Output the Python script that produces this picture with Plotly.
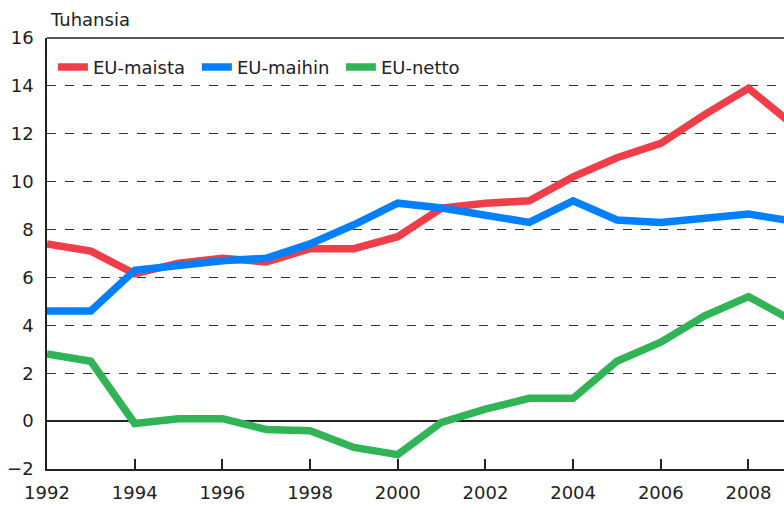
import plotly.graph_objects as go

years = list(range(1992, 2010))
eu_maista = [7.4, 7.1, 6.15, 6.6, 6.8, 6.65, 7.2, 7.2, 7.7, 8.9, 9.1, 9.2, 10.2, 11.0, 11.6, 12.8, 13.9, 12.4]
eu_maihin = [4.6, 4.6, 6.3, 6.5, 6.7, 6.8, 7.4, 8.2, 9.1, 8.9, 8.6, 8.3, 9.2, 8.4, 8.3, 8.5, 8.65, 8.35]
eu_netto = [2.8, 2.5, -0.1, 0.1, 0.1, -0.35, -0.4, -1.1, -1.4, -0.05, 0.5, 0.95, 0.95, 2.5, 3.3, 4.4, 5.2, 4.2]

series = [
    ("EU-maista", eu_maista, "#EF3E48"),
    ("EU-maihin", eu_maihin, "#0080FF"),
    ("EU-netto", eu_netto, "#30B455"),
]

FONT = "DejaVu Sans"

fig = go.Figure()
for name, vals, col in series:
    fig.add_trace(go.Scatter(x=years, y=vals, name=name, mode="lines",
                             line=dict(color=col, width=7.5)))

fig.update_layout(
    width=784, height=507,
    margin=dict(l=47, r=0, t=38, b=38),
    paper_bgcolor="white", plot_bgcolor="white",
    font=dict(family=FONT, size=18, color="#222"),
    showlegend=True,
    legend=dict(orientation="h", x=0.008, y=0.975, xanchor="left", yanchor="top",
                bgcolor="rgba(0,0,0,0)", font=dict(family=FONT, size=18, color="#222"),
                itemwidth=30, tracegroupgap=0, entrywidth=99),
    xaxis=dict(range=[1992, 2008.81], tickvals=list(range(1992, 2010, 2)),
               showgrid=False, zeroline=False, showline=True, linecolor="#222", linewidth=1.5,
               ticks="inside", ticklen=10, tickcolor="#222", tickwidth=1.5,
               ticklabelstandoff=7,
               tickfont=dict(family=FONT, size=18, color="#222")),
    yaxis=dict(range=[-2, 16], tickvals=list(range(-2, 17, 2)),
               showgrid=True, gridcolor="#333", griddash="dash", gridwidth=1,
               zeroline=True, zerolinecolor="#222", zerolinewidth=1.5,
               showline=True, linecolor="#222", linewidth=1.5, ticks="",
               ticklabelstandoff=8,
               tickfont=dict(family=FONT, size=18, color="#222")),
    shapes=[dict(type="line", xref="paper", yref="paper", x0=0, x1=1, y0=1, y1=1,
                 line=dict(color="#222", width=1.5))],
    annotations=[dict(text="Tuhansia", xref="paper", yref="paper", x=0, y=1,
                      xanchor="left", yanchor="bottom", showarrow=False, xshift=1, yshift=6,
                      font=dict(family=FONT, size=18, color="#222"))],
)

fig.write_html("out.html", config={"displayModeBar": False},
               post_script="document.body.style.margin='0';document.body.style.overflow='hidden';")
